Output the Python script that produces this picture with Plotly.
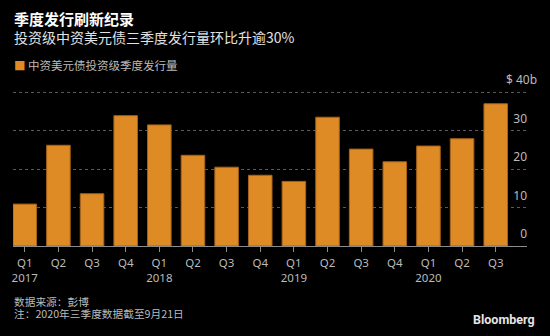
import plotly.graph_objects as go

quarters = ["Q1", "Q2", "Q3", "Q4", "Q1", "Q2", "Q3", "Q4", "Q1", "Q2", "Q3", "Q4", "Q1", "Q2", "Q3"]
years = ["2017", "", "", "", "2018", "", "", "", "2019", "", "", "", "2020", "", ""]
values = [10.9, 26.2, 13.6, 33.9, 31.5, 23.6, 20.5, 18.4, 16.8, 33.5, 25.2, 21.9, 26.0, 27.9, 37.0]
series_name = "中资美元债投资级季度发行量"
y_tickvals = [0, 10, 20, 30]
y_ticktext = ["0", "10", "20", "30"]
y_top_tickval = [40]
y_top_ticktext = ["$ 40b"]

title = "季度发行刷新纪录"
subtitle = "投资级中资美元债三季度发行量环比升逾30%"
source = "数据来源：彭博"
note = "注：2020年三季度数据截至9月21日"
brand = "Bloomberg"

labels = [f"{q}<br>{y}" if y else q for q, y in zip(quarters, years)]
idx = list(range(len(values)))

FONT = "Noto Sans, Noto Sans CJK SC, sans-serif"
CJK = "Noto Sans CJK SC, sans-serif"
ORANGE = "#DF8B25"
Y_RANGE = [0, 45]
PLOT_H = 173

fig = go.Figure()
fig.add_trace(go.Bar(
    x=idx, y=values, name=series_name,
    marker=dict(color=ORANGE, line=dict(color="#A5621A", width=1)),
    showlegend=False, hoverinfo="skip",
))
# empty helper trace so that the overlaying axis carrying the top "$ 40b" tick is drawn
fig.add_trace(go.Scatter(x=[None], y=[None], yaxis="y2", mode="markers",
                         showlegend=False, hoverinfo="skip"))

fig.update_layout(
    width=550, height=336,
    margin=dict(l=13, r=23, t=336 - 90 - PLOT_H, b=90, autoexpand=False),
    paper_bgcolor="#000000", plot_bgcolor="#000000",
    bargap=0.30,
    font=dict(family=FONT, color="#BBBBBB", size=12),
    xaxis=dict(
        range=[-0.35, 14.93], tickvals=idx, ticktext=labels,
        showgrid=False, zeroline=False,
        showline=True, linecolor="#8C8C8C", linewidth=1,
        ticks="outside", ticklen=5, tickcolor="#8C8C8C", tickwidth=1,
        ticklabelstandoff=1,
        tickfont=dict(family=FONT, size=11.5, color="#BBBBBB"),
        automargin=False, fixedrange=True,
    ),
    yaxis=dict(
        range=Y_RANGE, side="right", ticklabelposition="inside",
        tickvals=y_tickvals, ticktext=y_ticktext,
        showgrid=True, gridcolor="#5A5A5A", griddash="dot", gridwidth=1,
        zeroline=False, showline=False, ticks="",
        ticklabelshift=-12, ticklabelstandoff=-3,
        tickfont=dict(family=FONT, size=12, color="#BBBBBB"),
        automargin=False, fixedrange=True,
    ),
    yaxis2=dict(
        range=Y_RANGE, side="right", overlaying="y", ticklabelposition="outside",
        tickvals=y_top_tickval, ticktext=y_top_ticktext,
        showgrid=True, gridcolor="#5A5A5A", griddash="dot", gridwidth=1,
        zeroline=False, showline=False, ticks="",
        ticklabelshift=-12, ticklabelstandoff=-22,
        tickfont=dict(family=FONT, size=12, color="#BBBBBB"),
        automargin=False, fixedrange=True,
    ),
)

def py(ypx):
    return (246 - ypx) / float(PLOT_H)

ann = [
    dict(text=f"<b>{title}</b>", x=-0.002, y=py(18.3), font=dict(family=CJK, size=15, color="#FFFFFF"), xanchor="left"),
    dict(text=subtitle, x=-0.002, y=py(36.7), font=dict(family=CJK, size=14, color="#E2E2E2"), xanchor="left"),
    dict(text=f"<span style='color:{ORANGE}'>■</span> {series_name}", x=-0.002, y=py(65), font=dict(family=CJK, size=11.5, color="#BBBBBB"), xanchor="left"),
    dict(text=source, x=-0.002, y=py(301.7), font=dict(family=CJK, size=10.7, color="#BBBBBB"), xanchor="left"),
    dict(text=note, x=-0.002, y=py(313.7), font=dict(family=CJK, size=10.7, color="#BBBBBB"), xanchor="left"),
    dict(text=f"<b>{brand}</b>", x=(537 - 13) / 514, y=py(319), font=dict(family="Roboto, sans-serif", size=12.5, color="#E6E6E6"), xanchor="right"),
]
for a in ann:
    a.update(xref="paper", yref="paper", yanchor="middle", showarrow=False)
fig.update_layout(annotations=ann)

fig.write_html("out.html", config={"displayModeBar": False})
